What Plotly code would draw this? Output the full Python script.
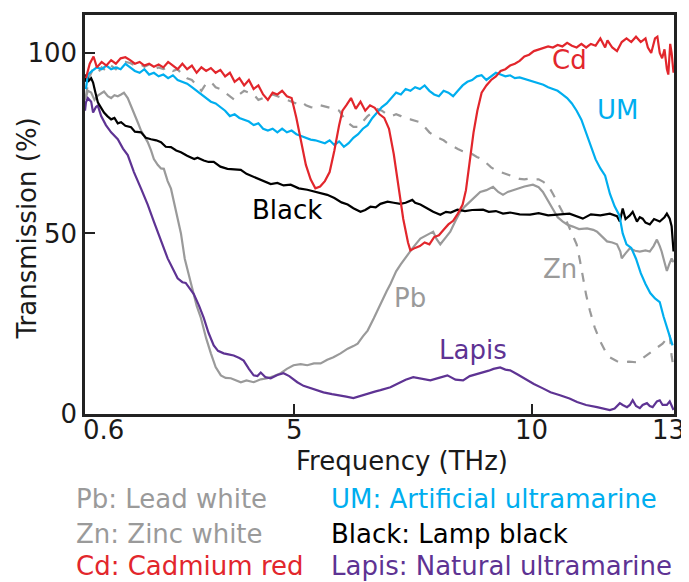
import plotly.graph_objects as go

# ---------------- data (THz, % transmission) ----------------
cd_x = [0.62,0.70,0.78,0.85,0.95,1.05,1.15,1.25,1.35,1.45,1.55,1.65,1.75,1.85,1.95,2.05,2.15,2.25,2.35,2.45,
        2.55,2.65,2.75,2.85,2.95,3.05,3.15,3.25,3.35,3.45,3.55,3.65,3.75,3.85,3.95,4.05,4.15,4.25,4.35,4.45,
        4.55,4.65,4.75,4.85,4.95,5.05,5.15,5.25,5.35,5.45,5.55,5.65,5.75,5.85,5.95,6.02,6.10,6.20,6.30,6.40,
        6.50,6.60,6.70,6.80,6.90,7.00,7.10,7.20,7.30,7.40,7.45,7.55,7.65,7.75,7.85,7.95,8.05,8.15,8.25,8.35,
        8.45,8.55,8.62,8.70,8.78,8.86,8.95,9.05,9.15,9.25,9.35,9.45,9.55,9.65,9.75,9.85,9.95,10.05,10.15,10.25,
        10.35,10.45,10.55,10.65,10.75,10.85,10.95,11.05,11.15,11.25,11.35,11.45,11.55,11.60,11.70,11.80,11.90,12.00,12.10,12.20,
        12.30,12.40,12.45,12.52,12.60,12.65,12.70,12.75,12.80,12.85,12.88,12.92,12.95,12.99]
cd_y = [93,97,99,96,97.5,96.5,98,97,98.5,98.8,98,97,97.5,96.5,97,96.2,96.8,96,97.5,96.5,
        95.5,97,95.5,96.5,94.5,96,95,95.8,94.5,95.3,93.5,94.5,92,93,91,92.5,90,91,88.5,87,
        89,88.5,89.5,88,87.5,82,75,69,65,62.5,63,64.5,67,73,80,84,85.5,87.5,84.5,86.5,
        84,85.5,84.8,83,82,79,72,63,54,47.5,45.3,46,46.5,47.5,47,49,49.5,51,52.5,53.5,
        55.5,58,62,70,78,84,89,91,92.5,93.5,95,95.5,96.5,97,97.8,99,99.5,100.5,101,101.5,
        101.8,101.5,102.2,101.8,102.8,102,101.5,102.5,101.5,102.5,102,104,101.5,103.5,101.5,100.5,103,104,103,104.5,
        103,104,101.5,100,104,104.5,100,98.5,101,95.5,94,102.5,100,94.5]

um_x = [0.62,0.66,0.75,0.85,0.95,1.05,1.15,1.25,1.35,1.45,1.55,1.65,1.75,1.85,1.95,2.05,2.15,2.25,2.35,2.45,
        2.55,2.65,2.75,2.85,2.95,3.05,3.15,3.25,3.35,3.45,3.55,3.65,3.75,3.85,3.95,4.05,4.15,4.25,4.35,4.45,
        4.55,4.65,4.75,4.85,4.95,5.05,5.15,5.25,5.35,5.45,5.55,5.65,5.75,5.85,5.95,6.05,6.15,6.25,6.35,6.45,
        6.55,6.65,6.75,6.85,6.95,7.05,7.15,7.25,7.35,7.45,7.55,7.65,7.75,7.85,7.95,8.05,8.15,8.25,8.35,8.45,
        8.55,8.65,8.75,8.85,8.95,9.05,9.15,9.25,9.35,9.45,9.55,9.65,9.75,9.85,9.95,10.05,10.15,10.25,10.35,10.45,
        10.55,10.65,10.75,10.85,10.95,11.05,11.15,11.25,11.35,11.45,11.55,11.65,11.75,11.85,11.92,12.00,12.10,12.20,12.30,12.40,
        12.50,12.60,12.70,12.78,12.85,12.92,12.97]
um_y = [90,94,95,96,95.5,96.5,95.5,96,95.5,97,96,95,94.5,95.5,94,94.5,93.5,94,93,93.8,
        92.5,92,91.5,90.5,89.5,88.5,87.5,86.5,86,85,84,82.5,83,82,81.5,81,80,80.5,79,78.5,
        79,78,79,78,78.5,77.5,77,76.5,76,75.8,75.5,75,75.8,74.5,75.5,74,75,76.5,77.5,79,
        80,82,83.5,85,86,87.5,89,88.5,90,89.5,90.5,90,91,89.5,88.5,88,89.5,89,88,89.5,
        91,92,92.5,93.5,93.8,92.5,93.5,94.5,94,93.5,93.8,93,93.2,92.8,92.5,92,91.5,91.2,90.5,90,
        89.5,88.5,87.5,86,84,81.5,78,74,70.5,68,66,61,57.5,55,50,47,46,43,39,36,
        33.5,32,31,27,24,21,19]

zn_x = [0.62,0.68,0.75,0.85,0.95,1.05,1.15,1.25,1.35,1.45,1.55,1.65,1.75,1.85,1.95,2.05,2.15,2.25,2.35,2.45,
        2.55,2.65,2.75,2.85,2.95,3.05,3.15,3.25,3.35,3.45,3.55,3.65,3.75,3.85,3.95,4.05,4.15,4.25,4.35,4.45,
        4.55,4.65,4.75,4.85,4.95,5.05,5.15,5.25,5.35,5.45,5.55,5.65,5.75,5.85,5.95,6.05,6.15,6.25,6.35,6.45,
        6.55,6.65,6.75,6.85,6.95,7.05,7.15,7.25,7.35,7.45,7.55,7.65,7.75,7.85,7.95,8.05,8.15,8.25,8.35,8.45,
        8.55,8.65,8.75,8.85,8.95,9.05,9.15,9.25,9.35,9.45,9.55,9.65,9.75,9.85,9.95,10.05,10.15,10.25,10.35,10.45,
        10.55,10.65,10.75,10.85,10.95,11.02,11.08,11.15,11.23,11.33,11.44,11.55,11.65,11.80,11.92,12.05,12.22,12.35,12.49,12.60,
        12.76,12.87,12.91,12.95,12.99]
zn_y = [88,93,95,94,96,95,96.5,95.5,97,97.5,97.2,96.5,97,96.2,96.8,95.5,96,95.5,96,95,
        95.5,94,93,92.5,91,89.5,91.5,92,90.5,90,89,88,87,88.5,89.5,89,88.5,87,87.5,88,
        88.5,88,87.5,87,86.5,86,86.5,85.5,85,84.8,85.5,85.2,85,84.5,84,82,80.5,79.5,79.5,81,
        82.5,83.5,84.5,84,83,82.5,83,82.5,81.8,81.6,81.2,80.8,79.5,78,77,76.5,75.8,74.8,74,73.4,
        72.8,72.3,72,71.2,70.6,69.5,68.3,67.5,67,66.4,66,65.5,65.1,65,65.2,65,65,64.3,63.3,61,
        58.5,56,53,50,47,42.5,37.6,33,28.6,24,20.3,17.5,15.7,14.6,14.3,14.5,14.3,15.5,16.8,17.8,
        19.5,21.2,22,16,12.9]

pb_x = [0.60,0.66,0.73,0.80,0.87,0.95,1.00,1.08,1.15,1.22,1.29,1.36,1.42,1.50,1.57,1.64,1.71,1.78,1.85,1.92,
        1.99,2.05,2.13,2.20,2.26,2.34,2.41,2.48,2.55,2.62,2.70,2.83,2.95,3.04,3.15,3.25,3.35,3.46,3.56,3.67,
        3.78,3.88,4.00,4.15,4.30,4.44,4.58,4.72,4.85,4.99,5.14,5.28,5.42,5.56,5.70,5.83,5.98,6.13,6.25,6.34,
        6.45,6.55,6.68,6.82,6.95,7.03,7.15,7.25,7.39,7.50,7.66,7.80,7.93,8.00,8.08,8.20,8.29,8.40,8.50,8.60,
        8.71,8.80,8.92,9.05,9.19,9.30,9.40,9.50,9.70,9.85,10.03,10.15,10.24,10.35,10.45,10.55,10.66,10.75,10.87,11.00,
        11.17,11.30,11.38,11.50,11.59,11.70,11.80,11.87,11.90,11.98,12.07,12.18,12.28,12.40,12.49,12.57,12.64,12.70,12.74,12.80,
        12.85,12.90,12.95,12.99]
pb_y = [87,89.5,89,87,88.2,89,89.3,88,87.5,88.3,88,88.5,89,87.5,85.4,83,80.8,78.5,77,75.3,
        73,70.6,69,68,67.9,64.5,62.4,58.5,54.1,50,43,36,30,26.6,21,16.8,13,10.7,10,9.9,
        9.3,8.8,9.3,8.8,9.6,9.9,10.5,11.3,12.5,13.5,13.8,13.5,14,14,15,15.7,16.8,18.1,18.8,19.5,
        21.5,23.1,26.5,30.5,34,36,39.5,41.5,44.2,46,48.6,49.5,50.5,48.5,47,49,50.5,53.5,56,57.5,
        58.8,60,61.5,62,62.9,61.5,60.7,61.5,62.4,63,63.5,62.8,61.5,59,56.9,54.5,53.3,52.5,51.9,51.2,
        51.4,51,50.5,49,47.8,47.5,47,45,43.1,44.5,45.9,45.2,45,45.3,45,46.5,48.3,46.5,45,42,
        39.6,41.5,43.1,42]

black_x = [0.60,0.62,0.66,0.68,0.73,0.77,0.82,0.87,0.93,1.00,1.07,1.15,1.22,1.29,1.36,1.45,1.57,1.65,1.78,1.88,
           1.99,2.10,2.20,2.30,2.41,2.52,2.62,2.75,2.90,2.97,3.10,3.20,3.31,3.45,3.60,3.75,3.88,4.00,4.15,4.30,
           4.40,4.51,4.65,4.78,4.93,5.10,5.28,5.45,5.60,5.70,5.85,6.00,6.13,6.25,6.40,6.50,6.61,6.72,6.82,6.97,
           7.10,7.24,7.35,7.49,7.55,7.66,7.80,7.93,8.08,8.20,8.30,8.44,8.60,8.75,8.98,9.10,9.25,9.40,9.55,9.75,
           9.97,10.15,10.35,10.60,10.80,11.08,11.25,11.45,11.65,11.80,11.86,11.92,11.98,12.07,12.13,12.22,12.28,12.34,12.40,12.49,
           12.58,12.70,12.80,12.85,12.91,12.95,12.99]
black_y = [92,94,93,92.3,93,91.8,89,86.3,85,83.5,82.5,81.6,82,80.5,80.8,79.8,79.4,78.2,78,76.5,
           76.1,75.8,75.3,74,73.9,73,72.5,71.5,70.6,71,70.2,69.8,69.8,68.5,67.9,67.8,67.6,66.5,65.7,65,
           64.5,63.7,64,63.3,63.5,62.5,62.1,61.5,61,60.7,59.8,58.6,58,57,56,56.5,57.4,57.2,58.2,58.8,
           58.5,58.2,58.5,59.3,58.5,58,57,56,55.2,56,55.8,56.6,56.2,56.5,56.6,56,56.2,55.5,55.8,55.3,
           55.2,55.6,55,55.2,55.5,54.1,55.3,55,55.5,54.8,53.3,56.9,54,55,56,53.3,54.5,54.1,53,52.5,
           54,53.3,54.5,55.5,54.1,52,45]

lapis_x = [0.60,0.62,0.66,0.73,0.77,0.83,0.87,0.94,1.04,1.15,1.29,1.40,1.50,1.63,1.78,1.92,2.05,2.13,2.34,2.55,
           2.65,2.72,2.89,3.00,3.10,3.20,3.31,3.40,3.52,3.62,3.73,3.85,3.94,4.05,4.15,4.23,4.30,4.40,4.51,4.65,
           4.78,4.90,5.07,5.20,5.35,5.50,5.62,5.80,5.98,6.10,6.25,6.40,6.55,6.70,6.82,6.95,7.03,7.20,7.35,7.51,
           7.65,7.87,8.05,8.23,8.40,8.56,8.70,8.85,8.98,9.10,9.20,9.34,9.45,9.55,9.70,9.91,10.05,10.24,10.40,10.60,
           10.80,10.96,11.15,11.38,11.50,11.65,11.75,11.86,11.92,12.01,12.07,12.13,12.20,12.28,12.34,12.43,12.49,12.55,12.64,12.70,
           12.76,12.85,12.91,12.95,12.99]
lapis_y = [84,86.3,87.5,86.5,83.5,85,85.4,82.5,80,78,76.1,73.5,71.7,67,62.4,58,53.3,50.5,43.1,37.6,
           36.5,36.3,33.2,30,26.6,22.5,19,17.5,16.8,16.5,16.2,15.5,14.8,12.5,10.7,10.5,11.5,10.2,9.9,10.8,
           11.3,10.5,8.8,7.8,7.1,6.4,6,5.5,5.2,4.8,4.4,5,5.8,6.2,6.6,7,7.4,8.5,9.5,10.2,
           9.8,9.3,10,10.7,9.5,9.3,10.5,11,11.5,12,12.5,12.9,12.3,12.1,11,9.3,8.3,7.1,6,5.2,
           4.3,3.3,2.5,1.9,1.5,1.1,1.5,3,2.5,1.9,2.5,3.8,2.2,1.6,2.5,3,2.2,1.9,3.5,3.8,
           2.5,2.5,3.5,2,1.1]

x_tick_vals = [0.6, 5, 10, 13]
x_tick_text = ["0.6", "5", "10", "13"]
y_tick_vals = [0, 50, 100]
y_tick_text = ["0", "50", "100"]

curve_labels = ["Cd", "UM", "Black", "Zn", "Pb", "Lapis"]
label_x = [10.81, 11.80, 4.86, 10.6, 7.45, 8.77]
label_y = [98.1, 84.3, 56.6, 40.1, 32.1, 17.6]

key_left = ["Pb: Lead white", "Zn: Zinc white", "Cd: Cadmium red"]
key_right = ["UM: Artificial ultramarine", "Black: Lamp black", "Lapis: Natural ultramarine"]

# ---------------- styles ----------------
RED = "#e2262c"
BLUE = "#00aeef"
GRAY = "#9a9a9a"
BLACK = "#000000"
PURPLE = "#5e3393"
INK = "#1a1a1a"
FONT = "DejaVu Sans"
FS = 26

fig = go.Figure()
series = [
    (pb_x, pb_y, GRAY, "solid"),
    (zn_x, zn_y, GRAY, "dash"),
    (lapis_x, lapis_y, PURPLE, "solid"),
    (black_x, black_y, BLACK, "solid"),
    (um_x, um_y, BLUE, "solid"),
    (cd_x, cd_y, RED, "solid"),
]
for xs, ys, col, dash in series:
    fig.add_trace(go.Scatter(x=xs, y=ys, mode="lines",
                             line=dict(color=col, width=2.2, dash=dash),
                             showlegend=False, hoverinfo="skip"))

label_colors = [RED, BLUE, BLACK, GRAY, GRAY, PURPLE]
for t, lx, ly, c in zip(curve_labels, label_x, label_y, label_colors):
    fig.add_annotation(x=lx, y=ly, text=t, showarrow=False, xref="x", yref="y",
                       xanchor="center", yanchor="middle",
                       font=dict(family=FONT, size=FS, color=c))

# x tick labels as annotations (first one starts at the axis, last one kept inside the page)
tick_shift = [-4, 0, 0, -6]
for v, t, sh in zip(x_tick_vals, x_tick_text, tick_shift):
    anchor = "left" if v == x_tick_vals[0] else "center"
    fig.add_annotation(x=v, y=-0.040, xref="x", yref="paper", text=t, showarrow=False,
                       xanchor=anchor, yanchor="middle", xshift=sh,
                       font=dict(family=FONT, size=FS, color=INK))

# axis titles
fig.add_annotation(x=0.538, y=-0.119, xref="paper", yref="paper", text="Frequency (THz)",
                   showarrow=False, xanchor="center", yanchor="middle",
                   font=dict(family=FONT, size=FS, color=INK))
fig.add_annotation(x=-0.0985, y=0.465, xref="paper", yref="paper", text="Transmission (%)",
                   showarrow=False, textangle=-90, xanchor="center", yanchor="middle",
                   font=dict(family=FONT, size=FS, color=INK))

# key text
left_cols = [GRAY, GRAY, RED]
right_cols = [BLUE, BLACK, PURPLE]
rows_y = [-0.214, -0.301, -0.381]
for t, c, yy in zip(key_left, left_cols, rows_y):
    fig.add_annotation(x=-0.019, y=yy, xref="paper", yref="paper", text=t, showarrow=False,
                       xanchor="left", yanchor="middle", font=dict(family=FONT, size=FS, color=c))
for t, c, yy in zip(key_right, right_cols, rows_y):
    fig.add_annotation(x=0.414, y=yy, xref="paper", yref="paper", text=t, showarrow=False,
                       xanchor="left", yanchor="middle", font=dict(family=FONT, size=FS, color=c))

# page has an 8px body margin, so the figure is 8px smaller than the window
fig.update_layout(
    width=681, height=574,
    margin=dict(l=77, r=15, t=4, b=168),
    plot_bgcolor="white", paper_bgcolor="white",
    font=dict(family=FONT, size=FS, color=INK),
    xaxis=dict(range=[0.6, 13], tickvals=x_tick_vals, showticklabels=False,
               ticks="inside", ticklen=10, tickwidth=2, tickcolor="#222",
               showline=True, linecolor="#222", linewidth=2.5, mirror=True,
               showgrid=False, zeroline=False),
    yaxis=dict(range=[0, 110.5], tickvals=y_tick_vals, ticktext=y_tick_text,
               ticks="inside", ticklen=10, tickwidth=2, tickcolor="#222",
               showline=True, linecolor="#222", linewidth=2.5, mirror=True,
               showgrid=False, zeroline=False, tickfont=dict(family=FONT, size=FS, color=INK)),
)

fig.write_html("out.html")
